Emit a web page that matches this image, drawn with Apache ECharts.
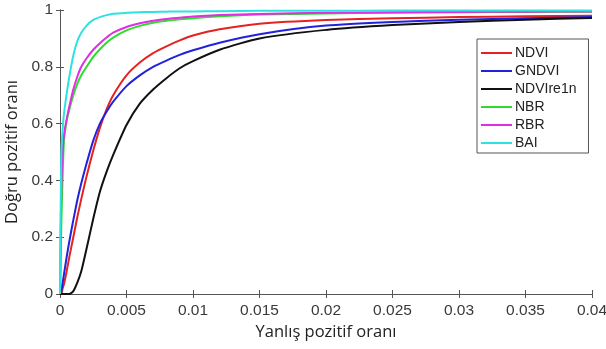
<!DOCTYPE html>
<html>
<head>
<meta charset="utf-8">
<script src="https://cdn.jsdelivr.net/npm/echarts@6/dist/echarts.min.js"></script>
<style>
  html, body { margin: 0; padding: 0; background: #fff; }
  #chart { width: 606px; height: 349px; }
</style>
</head>
<body>
<div id="chart"></div>
<script>
// false positive rate grid shared by all curves
const fpr = [0, 0.00005, 0.0001, 0.0002, 0.0003, 0.0005, 0.0007, 0.001, 0.0013, 0.0016,
  0.002, 0.0025, 0.003, 0.0035, 0.004, 0.005, 0.006, 0.007, 0.008, 0.009,
  0.01, 0.012, 0.015, 0.02, 0.025, 0.03, 0.035, 0.04];

const ndvi = [0, 0, 0, 0.02, 0.035, 0.08, 0.13, 0.2, 0.27, 0.335,
  0.415, 0.505, 0.585, 0.65, 0.70, 0.77, 0.815, 0.848, 0.872, 0.893,
  0.91, 0.932, 0.952, 0.965, 0.971, 0.975, 0.978, 0.98];
const gndvi = [0, 0, 0.01, 0.04, 0.07, 0.13, 0.185, 0.26, 0.33, 0.39,
  0.46, 0.54, 0.6, 0.642, 0.677, 0.732, 0.77, 0.8, 0.822, 0.842,
  0.858, 0.885, 0.915, 0.945, 0.958, 0.966, 0.971, 0.975];
const ndvire1n = [0, 0, 0, 0, 0, 0, 0, 0.01, 0.04, 0.08,
  0.16, 0.265, 0.36, 0.43, 0.49, 0.595, 0.67, 0.72, 0.76, 0.795,
  0.82, 0.86, 0.9, 0.93, 0.947, 0.958, 0.966, 0.972];
const nbr = [0, 0.12, 0.25, 0.42, 0.54, 0.61, 0.65, 0.70, 0.74, 0.77,
  0.80, 0.835, 0.862, 0.885, 0.903, 0.928, 0.944, 0.955, 0.962, 0.967,
  0.971, 0.978, 0.984, 0.988, 0.99, 0.992, 0.993, 0.994];
const rbr = [0, 0.2, 0.38, 0.5, 0.56, 0.615, 0.66, 0.72, 0.765, 0.80,
  0.83, 0.86, 0.883, 0.903, 0.92, 0.94, 0.953, 0.962, 0.968, 0.973,
  0.977, 0.982, 0.986, 0.99, 0.992, 0.993, 0.994, 0.995];
const bai = [0, 0.3, 0.5, 0.58, 0.635, 0.705, 0.765, 0.84, 0.89, 0.92,
  0.945, 0.965, 0.975, 0.982, 0.987, 0.99, 0.992, 0.993, 0.994, 0.995,
  0.995, 0.996, 0.997, 0.997, 0.998, 0.998, 0.998, 0.998];

const seriesNames = ["NDVI", "GNDVI", "NDVIre1n", "NBR", "RBR", "BAI"];
const seriesValues = [ndvi, gndvi, ndvire1n, nbr, rbr, bai];
const seriesColors = ["#e42222", "#2222dc", "#111111", "#2edc2e", "#e02ee0", "#2ee2e2"];

const chart = echarts.init(document.getElementById("chart"), null, { renderer: "canvas" });

const axisColor = "#555555";
const labelColor = "#3a3a3a";

const boxAxis = {
  axisLine: { show: true, lineStyle: { color: axisColor, width: 1 } },
  axisTick: { show: true, inside: true, length: 4, lineStyle: { color: axisColor } },
  splitLine: { show: false },
};

const series = seriesNames.map((name, i) => ({
  name: name,
  type: "line",
  data: fpr.map((x, j) => [x, seriesValues[i][j]]),
  symbol: "none",
  smooth: 0.2,
  lineStyle: { color: seriesColors[i], width: 2 },
  itemStyle: { color: seriesColors[i] },
  z: 2,
}));

const option = {
  backgroundColor: "#ffffff",
  animation: false,
  grid: { left: 60, right: 14, top: 10, bottom: 55, containLabel: false, outerBoundsMode: "none" },
  legend: {
    orient: "vertical",
    left: 477,
    top: 39,
    data: seriesNames,
    icon: "rect",
    itemWidth: 31,
    itemHeight: 2,
    itemGap: 2,
    padding: [6, 12, 2, 4],
    borderColor: "#555555",
    borderWidth: 1,
    backgroundColor: "#ffffff",
    textStyle: { fontFamily: "Liberation Sans", fontSize: 14, lineHeight: 16, color: "#222222", padding: [0, 0, 0, -2] },
  },
  xAxis: [
    {
      type: "value",
      min: 0,
      max: 0.04,
      interval: 0.005,
      position: "bottom",
      name: "Yanlış pozitif oranı",
      nameLocation: "middle",
      nameGap: 20,
      nameTextStyle: { fontFamily: "Open Sans", fontSize: 16.5, color: "#222222" },
      axisLabel: { fontFamily: "Liberation Sans", fontSize: 15.5, color: labelColor, margin: 9 },
      ...boxAxis,
    },
    {
      type: "value",
      min: 0,
      max: 0.04,
      interval: 0.005,
      position: "top",
      axisLabel: { show: false },
      ...boxAxis,
    },
  ],
  yAxis: [
    {
      type: "value",
      min: 0,
      max: 1,
      interval: 0.2,
      position: "left",
      name: "Doğru pozitif oranı",
      nameLocation: "middle",
      nameGap: 33,
      nameTextStyle: { fontFamily: "Open Sans", fontSize: 16.5, color: "#222222" },
      axisLabel: { fontFamily: "Liberation Sans", fontSize: 15.5, color: labelColor, margin: 7 },
      ...boxAxis,
    },
    {
      type: "value",
      min: 0,
      max: 1,
      interval: 0.2,
      position: "right",
      axisLabel: { show: false },
      ...boxAxis,
    },
  ],
  series: series,
};

chart.setOption(option);
</script>
</body>
</html>
